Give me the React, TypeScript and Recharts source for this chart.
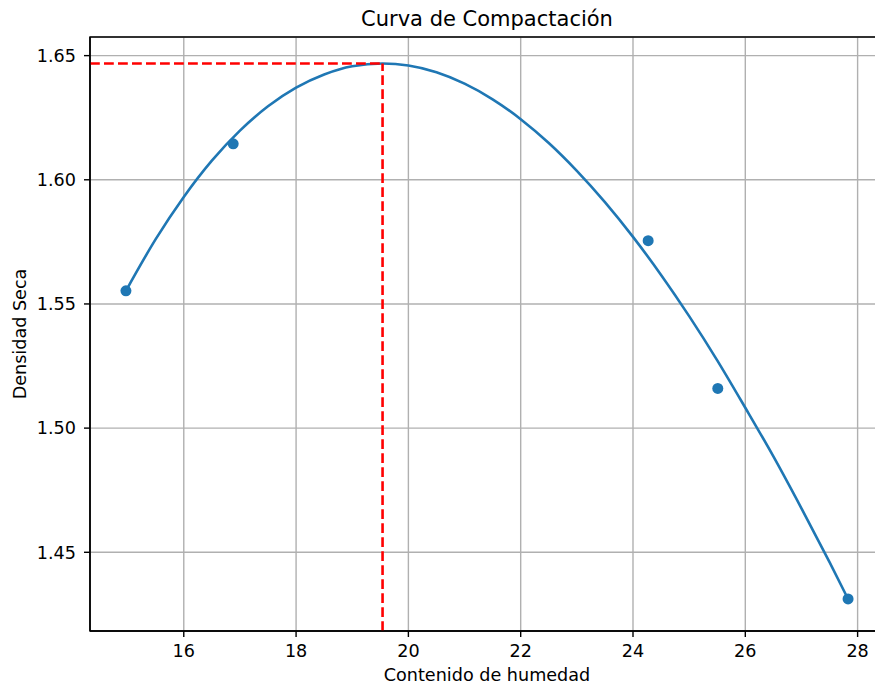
import {
  ComposedChart,
  Line,
  Scatter,
  XAxis,
  YAxis,
  CartesianGrid,
  ReferenceLine,
  ReferenceArea,
} from "recharts";

document.body.style.margin = "0";

// lab samples (moisture %, dry density)
const moistureSamples = [14.97, 16.88, 24.27, 25.51, 27.83];
const densitySamples = [1.5553, 1.6145, 1.5755, 1.516, 1.4312];

// fitted curve
const fitMoisture = [
  14.97, 15.5, 16, 16.5, 17, 17.5, 18, 18.5, 19, 19.54, 20, 20.5, 21, 21.5,
  22, 22.5, 23, 23.5, 24, 24.5, 25, 25.5, 26, 26.5, 27, 27.5, 27.83,
];
const fitDensity = [
  1.5553, 1.5761, 1.5931, 1.6077, 1.6198, 1.6296, 1.6371, 1.6424, 1.6457,
  1.6468, 1.646, 1.6433, 1.6387, 1.6324, 1.6244, 1.6148, 1.6036, 1.591,
  1.577, 1.5617, 1.5451, 1.5273, 1.5082, 1.4886, 1.4677, 1.446, 1.4312,
];

const optMoisture = 19.54;
const maxDensity = 1.6468;

const xTicks = [16, 18, 20, 22, 24, 26, 28];
const yTicks = [1.45, 1.5, 1.55, 1.6, 1.65];
const xDomain = [14.33, 28.47];
const yDomain = [1.4183, 1.6575];

const samples = moistureSamples.map((x, i) => ({ x, y: densitySamples[i] }));
const fit = fitMoisture.map((x, i) => ({ x, y: fitDensity[i] }));

const font = "DejaVu Sans, sans-serif";
const blue = "#1f77b4";
const fs = 17.6;

export default function App() {
  return (
    <div
      style={{
        position: "relative",
        width: 875,
        height: 686,
        overflow: "hidden",
        background: "#fff",
        fontFamily: font,
      }}
    >
      <div
        style={{
          position: "absolute",
          left: 0,
          width: 974,
          top: 7,
          textAlign: "center",
          fontSize: 21,
          color: "#000",
          fontFamily: font,
          lineHeight: "normal",
        }}
      >
        Curva de Compactación
      </div>
      <ComposedChart
        width={895}
        height={686}
        margin={{ top: 37, right: 11, bottom: 25, left: 0 }}
        style={{ fontFamily: font }}
      >
        <CartesianGrid stroke="#b0b0b0" strokeWidth={1.4} />
        <XAxis
          dataKey="x"
          type="number"
          domain={xDomain}
          ticks={xTicks}
          height={30}
          allowDataOverflow
          tick={{ fill: "#000", fontSize: fs }}
          tickSize={6}
          tickMargin={8}
          axisLine={{ stroke: "#000", strokeWidth: 1.4 }}
          tickLine={{ stroke: "#000", strokeWidth: 1.4 }}
          label={{
            value: "Contenido de humedad",
            position: "bottom",
            offset: 7.5,
            fill: "#000",
            fontSize: fs,
          }}
        />
        <YAxis
          dataKey="y"
          type="number"
          domain={yDomain}
          ticks={yTicks}
          width={90}
          allowDataOverflow
          tickFormatter={(v) => v.toFixed(2)}
          tick={{ fill: "#000", fontSize: fs }}
          tickSize={6}
          tickMargin={8}
          axisLine={{ stroke: "#000", strokeWidth: 1.4 }}
          tickLine={{ stroke: "#000", strokeWidth: 1.4 }}
          label={{
            value: "Densidad Seca",
            angle: -90,
            position: "insideLeft",
            offset: 20,
            fill: "#000",
            fontSize: fs,
            style: { textAnchor: "middle" },
          }}
        />
        <ReferenceArea
          x1={xDomain[0]}
          x2={xDomain[1]}
          y1={yDomain[0]}
          y2={yDomain[1]}
          fill="none"
          fillOpacity={0}
          stroke="#000"
          strokeWidth={1.4}
          ifOverflow="visible"
        />
        <Scatter
          data={samples}
          dataKey="y"
          isAnimationActive={false}
          shape={(p: any) => <circle cx={p.cx} cy={p.cy} r={5.5} fill={blue} />}
        />
        <Line
          data={fit}
          dataKey="y"
          type="monotone"
          stroke={blue}
          strokeWidth={2.6}
          dot={false}
          activeDot={false}
          isAnimationActive={false}
        />
        <ReferenceLine
          segment={[
            { x: xDomain[0], y: maxDensity },
            { x: optMoisture, y: maxDensity },
          ]}
          stroke="#ff0000"
          strokeWidth={2.6}
          strokeDasharray="9.8 4.2"
          ifOverflow="visible"
        />
        <ReferenceLine
          segment={[
            { x: optMoisture, y: yDomain[0] },
            { x: optMoisture, y: maxDensity },
          ]}
          stroke="#ff0000"
          strokeWidth={2.6}
          strokeDasharray="9.8 4.2"
          ifOverflow="visible"
        />
      </ComposedChart>
    </div>
  );
}
